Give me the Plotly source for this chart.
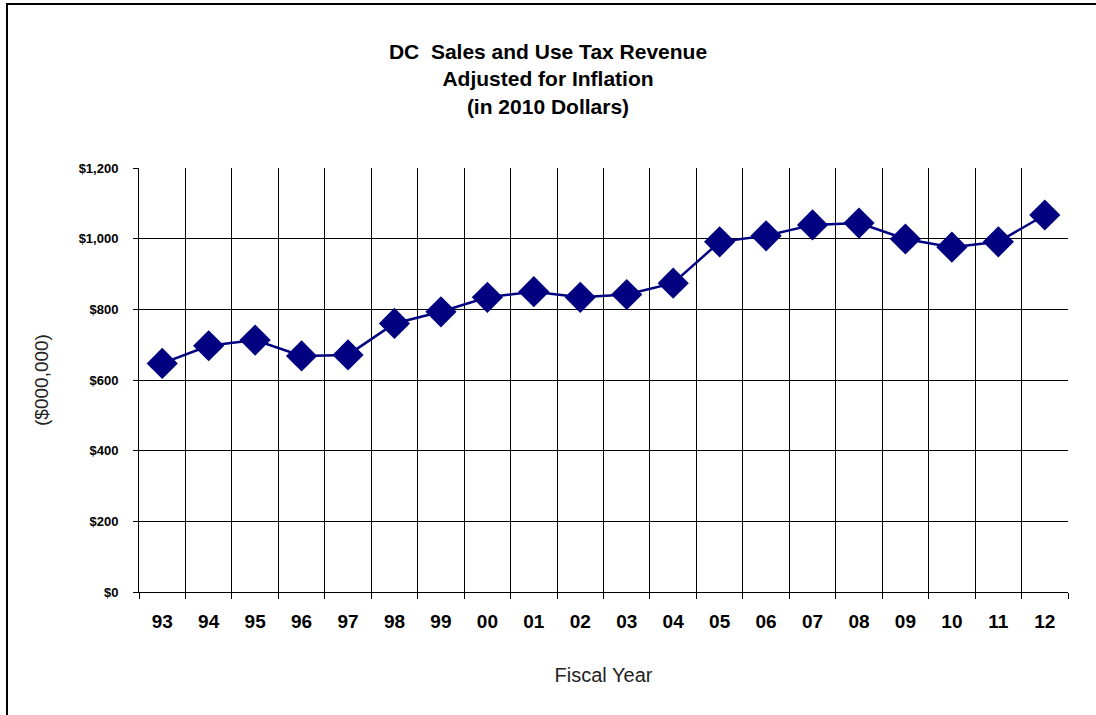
import plotly.graph_objects as go

years = ["93", "94", "95", "96", "97", "98", "99", "00", "01", "02",
         "03", "04", "05", "06", "07", "08", "09", "10", "11", "12"]
revenue = [647, 697, 713, 668, 671, 760, 793, 834, 850, 834,
           842, 874, 991, 1008, 1039, 1044, 999, 976, 991, 1067]
y_ticks = [0, 200, 400, 600, 800, 1000, 1200]
y_tick_labels = ["$0", "$200", "$400", "$600", "$800", "$1,000", "$1,200"]

x_pos = list(range(len(years)))
boundaries = [i - 0.5 for i in range(len(years) + 1)]

fig = go.Figure()
fig.add_trace(go.Scatter(
    x=x_pos, y=revenue, mode="lines+markers",
    line=dict(color="#000080", width=2.5),
    marker=dict(symbol="diamond", size=24, color="#000080"),
    showlegend=False, hoverinfo="skip",
))

FONT = "Liberation Sans, Arial, sans-serif"

fig.update_layout(
    width=1096, height=715,
    margin=dict(l=139, r=28, t=168, b=123),
    paper_bgcolor="white", plot_bgcolor="white",
    title=dict(
        text="<b>DC  Sales and Use Tax Revenue<br>Adjusted for Inflation<br>(in 2010 Dollars)</b>",
        x=0.5, xref="container", xanchor="center",
        y=1 - 59 / 715, yref="container", yanchor="middle",
        font=dict(family=FONT, size=21, color="black"),
    ),
    xaxis=dict(
        range=[-0.5, len(years) - 0.5],
        tickmode="array", tickvals=x_pos, ticktext=years,
        ticks="", showgrid=False,
        tickfont=dict(family=FONT, size=19, color="black", weight="bold"),
        ticklabelstandoff=12,
        showline=True, linecolor="black", linewidth=1,
        minor=dict(tickmode="array", tickvals=boundaries, ticks="outside",
                   ticklen=6, tickcolor="black", tickwidth=1,
                   showgrid=True, gridcolor="black", gridwidth=1),
        title=dict(text="Fiscal Year", standoff=37,
                   font=dict(family=FONT, size=20, color="#222")),
        zeroline=False, fixedrange=True,
    ),
    yaxis=dict(
        range=[0, 1200],
        tickmode="array", tickvals=y_ticks, ticktext=y_tick_labels,
        ticks="outside", ticklen=5, tickcolor="black", tickwidth=1,
        ticklabelstandoff=12,
        tickfont=dict(family=FONT, size=13, color="black", weight="bold"),
        showgrid=True, gridcolor="black", gridwidth=1,
        showline=True, linecolor="black", linewidth=1,
        title=dict(text="($000,000)", standoff=24,
                   font=dict(family=FONT, size=19, color="#222")),
        zeroline=False, fixedrange=True,
    ),
    shapes=[dict(type="rect", xref="paper", yref="paper",
                 x0=(7 - 139) / 929, x1=1.2,
                 y0=-0.5, y1=(592 - 4) / 424,
                 line=dict(color="black", width=2), fillcolor="rgba(0,0,0,0)",
                 layer="below")],
)

fig.write_html("out.html", config={"displayModeBar": False},
               post_script="document.body.style.margin='0';")
